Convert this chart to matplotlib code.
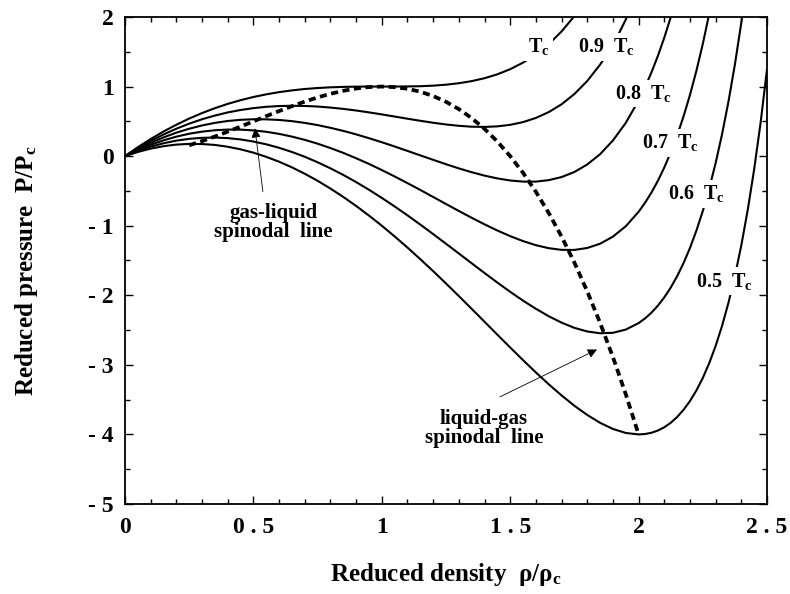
import matplotlib
matplotlib.use('Agg')
import matplotlib.pyplot as plt

# Data (reduced density and reduced pressure)
rho = [0.00, 0.05, 0.10, 0.15, 0.20, 0.25, 0.30, 0.35, 0.40, 0.45,
       0.50, 0.55, 0.60, 0.65, 0.70, 0.75, 0.80, 0.85, 0.90, 0.95,
       1.00, 1.05, 1.10, 1.15, 1.20, 1.25, 1.30, 1.35, 1.40, 1.45,
       1.50, 1.55, 1.60, 1.65, 1.70, 1.75, 1.80, 1.85, 1.90, 1.95,
       2.00, 2.05, 2.10, 2.15, 2.20, 2.25, 2.30, 2.35, 2.40, 2.45, 2.50]

p_t10 = [0, 0.128, 0.246, 0.354, 0.451, 0.540, 0.619, 0.689, 0.751, 0.804,
         0.850, 0.888, 0.920, 0.945, 0.965, 0.979, 0.989, 0.995, 0.999, 1.000,
         1.000, 1.000, 1.002, 1.005, 1.013, 1.027, 1.048, 1.078, 1.120, 1.176,
         1.250, 1.344, 1.463, 1.610, 1.792, 2.013, 2.280]
p_t09 = [0, 0.115, 0.218, 0.311, 0.394, 0.467, 0.530, 0.583, 0.628, 0.663,
         0.690, 0.709, 0.720, 0.724, 0.721, 0.713, 0.698, 0.679, 0.656, 0.629,
         0.600, 0.569, 0.538, 0.508, 0.480, 0.455, 0.436, 0.423, 0.420, 0.428,
         0.450, 0.489, 0.549, 0.633, 0.745, 0.893, 1.080, 1.315, 1.606, 1.964,
         2.400]
p_t08 = [0, 0.101, 0.191, 0.269, 0.337, 0.394, 0.441, 0.478, 0.505, 0.522,
         0.530, 0.529, 0.520, 0.503, 0.478, 0.446, 0.407, 0.363, 0.313, 0.258,
         0.200, 0.139, 0.075, 0.011, -0.053, -0.116, -0.176, -0.231, -0.280, -0.320,
         -0.350, -0.366, -0.366, -0.345, -0.301, -0.228, -0.120, 0.028, 0.225, 0.478,
         0.800, 1.203, 1.703, 2.321]
p_t07 = [0, 0.087, 0.163, 0.227, 0.280, 0.322, 0.352, 0.372, 0.382, 0.381,
         0.370, 0.350, 0.320, 0.281, 0.234, 0.179, 0.116, 0.047, -0.030, -0.112,
         -0.200, -0.292, -0.388, -0.486, -0.587, -0.688, -0.788, -0.886, -0.980, -1.069,
         -1.150, -1.221, -1.280, -1.323, -1.347, -1.348, -1.320, -1.259, -1.157, -1.008,
         -0.800, -0.523, -0.163, 0.297, 0.880, 1.613, 2.530]
p_t06 = [0, 0.074, 0.136, 0.185, 0.223, 0.249, 0.263, 0.267, 0.259, 0.240,
         0.210, 0.170, 0.120, 0.060, -0.009, -0.088, -0.175, -0.270, -0.373, -0.483,
         -0.600, -0.723, -0.851, -0.984, -1.120, -1.259, -1.399, -1.540, -1.680, -1.817,
         -1.950, -2.077, -2.194, -2.301, -2.393, -2.468, -2.520, -2.546, -2.539, -2.493,
         -2.400, -2.250, -2.030, -1.726, -1.320, -0.788, -0.099, 0.786, 1.920, 3.374]
p_t05 = [0, 0.060, 0.108, 0.143, 0.166, 0.176, 0.174, 0.161, 0.135, 0.098,
         0.050, -0.010, -0.080, -0.161, -0.253, -0.354, -0.466, -0.586, -0.716, -0.854,
         -1.000, -1.154, -1.314, -1.481, -1.653, -1.830, -2.011, -2.195, -2.380, -2.566,
         -2.750, -2.932, -3.109, -3.279, -3.439, -3.588, -3.720, -3.833, -3.921, -3.979,
         -4.000, -3.976, -3.897, -3.750, -3.520, -3.188, -2.727, -2.106, -1.280, -0.189,
         1.250]

# extra readings on the steep right-hand branches
rho_steep = [1.875, 1.925, 1.975, 2.025, 2.075, 2.125, 2.175, 2.225, 2.275,
             2.325, 2.375, 2.425, 2.475]
steep_t09 = [1.453, 1.776, 2.171]
steep_t08 = [None, None, None, 0.990, 1.440, 1.996]
steep_t07 = [None, None, None, -0.671, -0.355, 0.053, 0.572, 1.226, 2.046]
steep_t06 = [None, None, None, -2.333, -2.149, -1.890, -1.537, -1.071, -0.465,
             0.316, 1.318, 2.602]
steep_t05 = [None, None, None, -3.994, -3.944, -3.833, -3.646, -3.368, -2.975,
             -2.439, -1.722, -0.772, 0.480]

# spinodal line, rho from 0.25 to 2.00
rho_sp = rho[5:41]
p_sp = [0.156, 0.216, 0.282, 0.352, 0.425, 0.500, 0.575, 0.648, 0.718, 0.784,
        0.844, 0.896, 0.939, 0.972, 0.993, 1.000, 0.992, 0.968, 0.926, 0.864,
        0.781, 0.676, 0.547, 0.392, 0.210, 0.000, -0.240, -0.512, -0.817, -1.156,
        -1.531, -1.944, -2.396, -2.888, -3.422, -4.000]

curves = [(p_t10, []), (p_t09, steep_t09), (p_t08, steep_t08),
          (p_t07, steep_t07), (p_t06, steep_t06), (p_t05, steep_t05)]
curve_labels = ['T$_c$', '0.9  T$_c$', '0.8  T$_c$', '0.7  T$_c$', '0.6  T$_c$', '0.5  T$_c$']
label_pos = [(1.61, 1.57), (1.875, 1.57), (2.02, 0.90), (2.125, 0.19), (2.225, -0.54), (2.335, -1.80)]

xticks = [0, 0.5, 1, 1.5, 2, 2.5]
xtick_labels = ['0', '0 . 5', '1', '1 . 5', '2', '2 . 5']
yticks = [-5, -4, -3, -2, -1, 0, 1, 2]
ytick_labels = ['- 5', '- 4', '- 3', '- 2', '- 1', '0', '1', '2']

plt.rcParams['font.family'] = 'Liberation Serif'
plt.rcParams['font.weight'] = 'bold'
plt.rcParams['mathtext.fontset'] = 'custom'
plt.rcParams['mathtext.rm'] = 'Liberation Serif:bold'
plt.rcParams['mathtext.it'] = 'Liberation Serif:bold'
plt.rcParams['mathtext.bf'] = 'Liberation Serif:bold'
plt.rcParams['mathtext.sf'] = 'Liberation Serif'

fig = plt.figure(figsize=(7.9, 5.94), dpi=100)
ax = fig.add_axes([0.1582, 0.1515, 0.8127, 0.8199])

for p, extra in curves:
    pts = list(zip(rho[:len(p)], p))
    pts += [(r, v) for r, v in zip(rho_steep, extra) if v is not None]
    pts.sort()
    ax.plot([a for a, b in pts], [b for a, b in pts], color='black', lw=1.5,
            solid_capstyle='butt')

sp, = ax.plot(rho_sp, p_sp, color='black', lw=2.7, dash_capstyle='butt')
sp.set_dashes([1.9, 1.2])

for lab, (x, y) in zip(curve_labels, label_pos):
    ax.text(x, y, lab, fontsize=14.5, fontweight='bold', ha='center', va='center', zorder=5,
            bbox=dict(facecolor='white', edgecolor='none', pad=2.5))

# spinodal annotations
ax.annotate('', xy=(0.506, 0.40), xytext=(0.537, -0.51),
            arrowprops=dict(arrowstyle='-|>', lw=0.6, color='black', mutation_scale=14,
                            shrinkA=0, shrinkB=0))
ax.text(0.578, -0.95, 'gas-liquid\nspinodal  line', fontsize=15, fontweight='bold',
        ha='center', va='center', linespacing=0.95)
ax.annotate('', xy=(1.838, -2.78), xytext=(1.46, -3.46),
            arrowprops=dict(arrowstyle='-|>', lw=0.6, color='black', mutation_scale=14,
                            shrinkA=0, shrinkB=0))
ax.text(1.398, -3.92, 'liquid-gas\nspinodal  line', fontsize=15, fontweight='bold',
        ha='center', va='center', linespacing=0.95)

ax.set_xlim(0, 2.5)
ax.set_ylim(-5, 2)
ax.set_xticks(xticks)
ax.set_xticklabels(xtick_labels)
ax.set_yticks(yticks)
ax.set_yticklabels(ytick_labels)
ax.set_xticks([i / 10 for i in range(26)], minor=True)
ax.set_yticks([-4.5, -3.5, -2.5, -1.5, -0.5, 0.5, 1.5], minor=True)
ax.tick_params(which='both', direction='in', top=True, right=True, width=1.0)
ax.tick_params(which='major', length=6, labelsize=17)
ax.tick_params(axis='x', which='major', pad=9)
ax.tick_params(axis='y', which='major', pad=8)
ax.tick_params(which='minor', length=3.5)
for s in ax.spines.values():
    s.set_linewidth(1.3)

ax.set_xlabel(r'Reduced density  $\mathsf{\rho/\rho}_c$', fontsize=18, fontweight='bold')
ax.set_ylabel(r'Reduced pressure  P/P$_c$', fontsize=18, fontweight='bold')
ax.xaxis.set_label_coords(0.5, -0.118)
ax.yaxis.set_label_coords(-0.133, 0.48)

fig.savefig('out.png', dpi=100)
